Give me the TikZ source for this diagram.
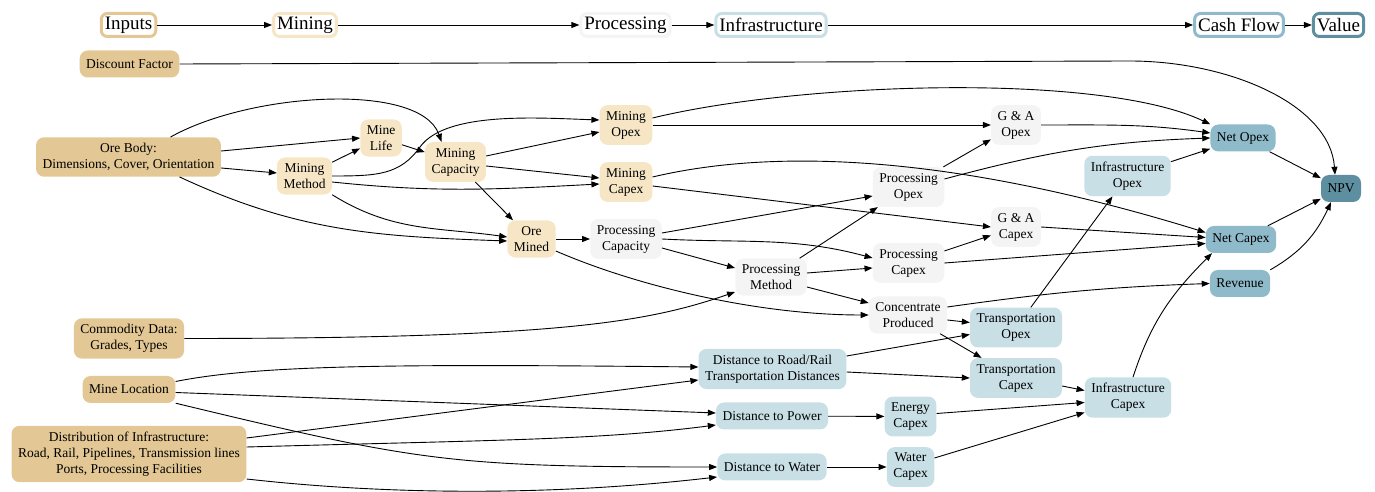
\documentclass[tikz,border=0pt]{standalone}
\usepackage{fontspec}
\setmainfont{Liberation Serif}
\usetikzlibrary{arrows.meta}

\definecolor{inputcol}{HTML}{E3C794}
\definecolor{miningcol}{HTML}{F6E6C6}
\definecolor{processcol}{HTML}{F4F4F4}
\definecolor{infracol}{HTML}{C8DFE6}
\definecolor{cashcol}{HTML}{8EBACA}
\definecolor{valuecol}{HTML}{5E8FA1}

\tikzset{
	box/.style={rounded corners=8pt, align=center, inner xsep=6.5pt, inner ysep=6pt, minimum height=27pt, font=\fontsize{13.5}{16}\selectfont},
	inputbox/.style={box, fill=inputcol},
	miningbox/.style={box, fill=miningcol},
	processbox/.style={box, fill=processcol},
	infrabox/.style={box, fill=infracol},
	cashbox/.style={box, fill=cashcol},
	valuebox/.style={box, fill=valuecol},
	head/.style={draw=#1, fill=white, line width=3pt, rounded corners=6pt, inner xsep=3.5pt, inner ysep=2pt, minimum height=23pt, font=\fontsize{19}{22}\selectfont},
	link/.style={-{Triangle[length=8pt,width=6pt]}, line width=0.9pt},
}

\begin{document}
\begin{tikzpicture}[x=1pt, y=1pt]
			%%%%% START %%%%%
			\useasboundingbox (0,0) rectangle (1375,492);
			
			\node[head=inputcol] (hinputs) at (128.5,467) {Inputs};
			\node[head=miningcol] (hmining) at (305,467) {Mining};
			\node[head=processcol] (hprocess) at (625.5,467) {Processing};
			\node[head=infracol] (hinfra) at (771,467) {Infrastructure};
			\node[head=cashcol] (hcash) at (1239,467) {Cash Flow};
			\node[head=valuecol] (hvalue) at (1338.5,467) {Value};
			
			\draw[link] (hinputs) -- (hmining);
			\draw[link] (hmining) -- (hprocess);
			\draw[link] (hprocess) -- (hinfra);
			\draw[link] (hinfra) -- (hcash);
			\draw[link] (hcash) -- (hvalue);
			
			\node[inputbox] (discount) at (129.5,428) {Discount Factor};
			\node[inputbox] (orebody) at (128.5,335) {Ore Body:\\Dimensions, Cover, Orientation};
			\node[inputbox] (commodity) at (129,153.5) {Commodity Data:\\Grades, Types};
			\node[inputbox] (mineloc) at (129,102.5) {Mine Location};
			\node[inputbox] (distinfra) at (129,38) {Distribution of Infrastructure:\\Road, Rail, Pipelines, Transmission lines\\Ports, Processing Facilities};
			
			\node[miningbox] (minelife) at (381,354) {Mine\\Life};
			\node[miningbox] (minemethod) at (304.5,316) {Mining\\Method};
			\node[miningbox] (minecap) at (455.5,330) {Mining\\Capacity};
			\node[miningbox] (mineopex) at (626,367) {Mining\\Opex};
			\node[miningbox] (minecapex) at (626,310) {Mining\\Capex};
			\node[miningbox] (oremined) at (531.5,253) {Ore\\Mined};
			
			\node[processbox] (proccap) at (626,253) {Processing\\Capacity};
			\node[processbox] (procmethod) at (771,215) {Processing\\Method};
			\node[processbox] (procopex) at (908.5,305) {Processing\\Opex};
			\node[processbox] (proccapex) at (908.5,229) {Processing\\Capex};
			\node[processbox] (concprod) at (908,177) {Concentrate\\Produced};
			\node[processbox] (gaopex) at (1016,367) {G \& A\\Opex};
			\node[processbox] (gacapex) at (1016,265) {G \& A\\Capex};
			
			\node[infrabox] (distroad) at (772.5,123) {Distance to Road/Rail\\Transportation Distances};
			\node[infrabox] (distpower) at (772,76) {Distance to Power};
			\node[infrabox] (distwater) at (772,25) {Distance to Water};
			\node[infrabox] (energycapex) at (910.5,75.5) {Energy\\Capex};
			\node[infrabox] (watercapex) at (910.5,25) {Water\\Capex};
			\node[infrabox] (transopex) at (1016,164.5) {Transportation\\Opex};
			\node[infrabox] (transcapex) at (1016,114) {Transportation\\Capex};
			\node[infrabox] (infopex) at (1127.5,316) {Infrastructure\\Opex};
			\node[infrabox] (infcapex) at (1128,94.5) {Infrastructure\\Capex};
			
			\node[cashbox] (netopex) at (1243,354) {Net Opex};
			\node[cashbox] (netcapex) at (1241,252.5) {Net Capex};
			\node[cashbox] (revenue) at (1240,208.5) {Revenue};
			\node[valuebox] (npv) at (1341,303.5) {NPV};
			
			\draw[link] (discount.east) -- ++(950,3) .. controls +(100,0) and +(-5,70) .. ([xshift=-6pt]npv.north);
			
			\draw[link] ([xshift=42pt]orebody.north) .. controls +(80,45) and +(-21,60) .. ([xshift=-14pt]minecap.north);
			\draw[link] ([yshift=6pt]orebody.east) -- (minelife.west);
			\draw[link] ([yshift=-11pt]orebody.east) -- ([yshift=3pt]minemethod.west);
			\draw[link] ([xshift=51pt]orebody.south) to[out=-25,in=178] ([yshift=-2pt]oremined.west);
			
			\draw[link] (minemethod) -- (minelife);
			\draw[link] (minelife) -- (minecap);
			\draw[link] (minemethod.east) .. controls +(45,0) and +(-20,-28) .. (420,345) .. controls +(26,36) and +(-60,2) .. ([yshift=5pt]mineopex.west);
			\draw[link] ([yshift=-6pt]minemethod.east) to[out=-6,in=183] ([yshift=-2pt]minecapex.west);
			\draw[link] (minemethod.south east) to[out=-32,in=172] ([yshift=2pt]oremined.west);
			
			\draw[link] ([yshift=6pt]minecap.east) -- ([yshift=-7pt]mineopex.west);
			\draw[link] ([yshift=-4pt]minecap.east) -- ([yshift=4pt]minecapex.west);
			\draw[link] (minecap) -- (oremined);
			
			\draw[link] ([yshift=7pt]mineopex.east) .. controls +(148,36) and +(-109,52) .. (netopex.north west);
			\draw[link] (mineopex) -- (gaopex);
			\draw[link] ([yshift=5pt]minecapex.east) .. controls +(127,30) and +(-246,76) .. ([yshift=7pt]netcapex.west);
			\draw[link] ([yshift=-4pt]minecapex.east) -- (gacapex.west);
			
			\draw[link] (oremined) -- (proccap);
			\draw[link] ([yshift=-12pt]oremined.east) .. controls +(83,-36) and +(-109,0) .. (concprod.west);
			
			\draw[link] ([yshift=6pt]proccap.east) -- ([yshift=-9pt]procopex.west);
			\draw[link] (proccap.east) to[out=-3,in=165] ([yshift=5pt]proccapex.west);
			\draw[link] ([yshift=-9pt]proccap.east) -- ([yshift=9pt]procmethod.west);
			\draw[link] (commodity.east) .. controls +(376,0) and +(-87,-30) .. ([yshift=-15pt]procmethod.west);
			
			\draw[link] (procmethod) -- (procopex);
			\draw[link] ([yshift=4pt]procmethod.east) -- ([yshift=-5pt]proccapex.west);
			\draw[link] ([yshift=-10pt]procmethod.east) -- ([yshift=12pt]concprod.west);
			
			\draw[link] (procopex) -- (gaopex);
			\draw[link] ([yshift=8pt]procopex.east) to[out=15,in=182] (netopex.west);
			\draw[link] (proccapex) -- (gacapex);
			\draw[link] (proccapex.east) -- ([yshift=-4pt]netcapex.west);
			
			\draw[link] (gaopex.east) to[out=0,in=172] ([yshift=5pt]netopex.west);
			\draw[link] (gacapex.east) -- ([yshift=2pt]netcapex.west);
			
			\draw[link] ([yshift=8pt]concprod.east) to[out=8,in=182] (revenue.west);
			\draw[link] ([yshift=-5pt]concprod.east) -- ([yshift=5pt]transopex.west);
			\draw[link] (concprod) -- (transcapex);
			
			\draw[link] (transopex) -- (infopex);
			\draw[link] ([yshift=-8pt]transcapex.east) -- ([yshift=7pt]infcapex.west);
			\draw[link] (infopex) -- (netopex);
			\draw[link] ([xshift=5pt]infcapex.north) to[out=72,in=-135] ([xshift=-29pt]netcapex.south);
			\draw[link] ([yshift=3pt]energycapex.east) -- ([yshift=-5pt]infcapex.west);
			\draw[link] ([yshift=9pt]watercapex.east) -- ([yshift=-15pt]infcapex.west);
			
			\draw[link] (netopex) -- (npv);
			\draw[link] (netcapex) -- (npv);
			\draw[link] (revenue.north east) to[out=30,in=-115] ([xshift=-10pt]npv.south);
			
			\draw[link] ([yshift=13pt]distroad.east) -- ([yshift=-7pt]transopex.west);
			\draw[link] ([yshift=-3pt]distroad.east) -- (transcapex.west);
			\draw[link] (distpower) -- (energycapex);
			\draw[link] (distwater) -- (watercapex);
			
			\draw[link] ([yshift=8pt]mineloc.east) .. controls +(85,17) and +(-296,3) .. ([yshift=2pt]distroad.west);
			\draw[link] ([yshift=-3pt]mineloc.east) -- ([yshift=3pt]distpower.west);
			\draw[link] (mineloc.south east) .. controls +(245,-59) and +(-266,0) .. (distwater.west);
			
			\draw[link] ([yshift=16pt]distinfra.east) -- ([yshift=-11pt]distroad.west);
			\draw[link] ([yshift=7pt]distinfra.east) .. controls +(251,7) and +(-116,-15) .. ([yshift=-9pt]distpower.west);
			\draw[link] ([yshift=-25pt]distinfra.east) .. controls +(151,-17) and +(-156,-18) .. ([yshift=-10pt]distwater.west);
			
			%%%%% END %%%%%
\end{tikzpicture}
\end{document}
